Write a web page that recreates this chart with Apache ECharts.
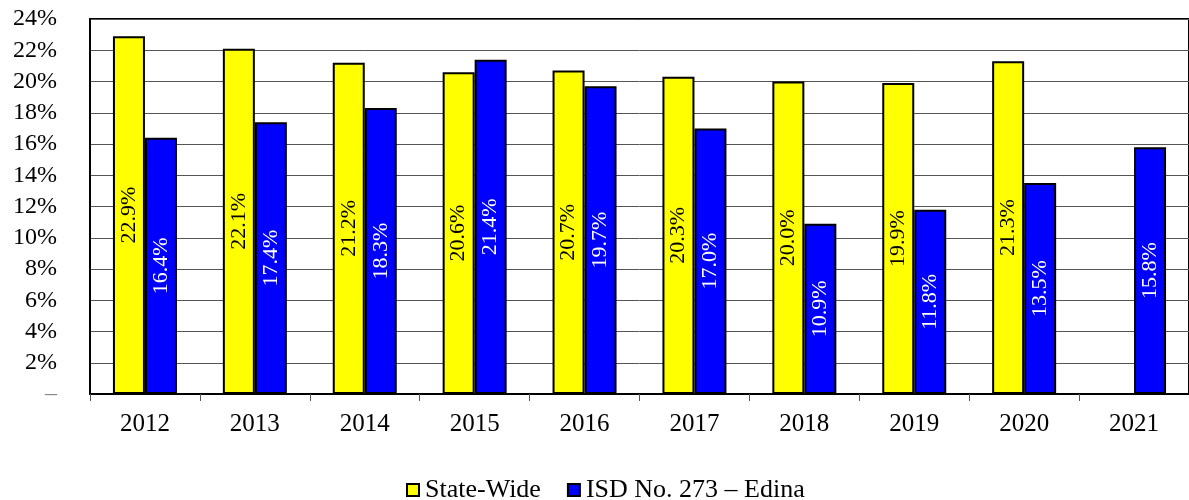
<!DOCTYPE html>
<html lang="en">
<head>
    <meta charset="UTF-8">
    <script type="text/javascript" src="https://cdn.jsdelivr.net/npm/echarts@6/dist/echarts.min.js"></script>
    <title>graphs</title>
    <style>
        html, body { margin: 0; padding: 0; background: #fff; }
        #chart { width: 1189px; height: 500px; }
    </style>
</head>
<body>
<div id="chart"></div>
<script type="text/javascript">
    var years = ['2012', '2013', '2014', '2015', '2016', '2017', '2018', '2019', '2020', '2021'];
    var stateWide = [22.9, 22.1, 21.2, 20.6, 20.7, 20.3, 20.0, 19.9, 21.3, 0];
    var edina = [16.4, 17.4, 18.3, 21.4, 19.7, 17.0, 10.9, 11.8, 13.5, 15.8];
    var seriesNames = ['State-Wide', 'ISD No. 273 \u2013 Edina'];

    var font = '"Liberation Serif", "Times New Roman", serif';

    var chart = echarts.init(document.getElementById('chart'), null, {renderer: 'canvas'});

    function barLabel(color) {
        return {
            show: true,
            position: 'inside',
            rotate: 90,
            color: color,
            fontFamily: font,
            fontSize: 22,
            formatter: function (p) {
                return p.value === 0 ? '' : p.value.toFixed(1) + '%';
            }
        };
    }

    chart.setOption({
        animation: false,
        textStyle: {fontFamily: font},
        grid: {
            left: 90,
            right: -3,
            top: 19,
            bottom: 106,
            show: true,
            borderColor: '#000',
            borderWidth: 2
        },
        legend: {
            top: 472,
            left: 401,
            icon: 'rect',
            itemWidth: 12,
            itemHeight: 12,
            itemGap: 26,
            itemStyle: {borderColor: '#000', borderWidth: 2},
            textStyle: {fontFamily: font, fontSize: 26, color: '#000', padding: [0, 0, 0, 1]},
            data: seriesNames
        },
        xAxis: {
            type: 'category',
            data: years,
            axisLine: {lineStyle: {color: '#000', width: 2}},
            axisTick: {show: true, length: 7, lineStyle: {color: '#555', width: 1}},
            axisLabel: {color: '#000', fontFamily: font, fontSize: 25, margin: 18}
        },
        yAxis: {
            type: 'value',
            min: 0,
            max: 24,
            interval: 2,
            axisLine: {show: true, lineStyle: {color: '#000', width: 2}},
            axisTick: {show: false},
            splitLine: {lineStyle: {color: '#555', width: 1}},
            axisLabel: {
                color: '#000',
                fontFamily: font,
                fontSize: 24,
                margin: 33,
                formatter: function (v) {
                    return v === 0 ? '{z|\u2013}' : v + '%';
                },
                rich: {z: {color: '#888', fontSize: 24, fontFamily: font}}
            }
        },
        series: [
            {
                name: seriesNames[0],
                type: 'bar',
                data: stateWide,
                barWidth: 32,
                barGap: '0%',
                itemStyle: {color: '#ffff00', borderColor: '#000', borderWidth: 2},
                label: barLabel('#000')
            },
            {
                name: seriesNames[1],
                type: 'bar',
                data: edina,
                barWidth: 32,
                itemStyle: {color: '#0000ff', borderColor: '#000', borderWidth: 2},
                label: barLabel('#fff')
            }
        ]
    });
</script>
</body>
</html>
